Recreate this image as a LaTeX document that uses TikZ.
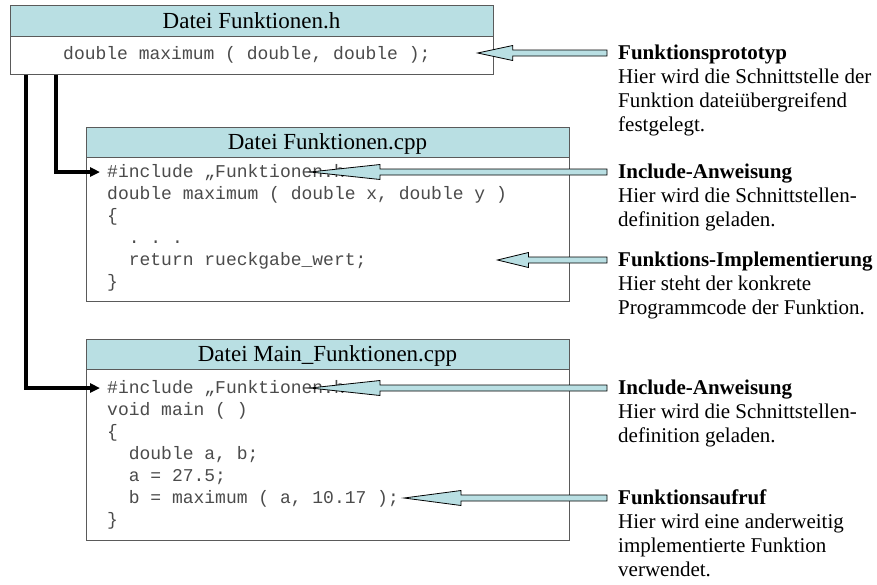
\documentclass[tikz,border=0pt]{standalone}
\usepackage{fontspec}
\setmainfont{Liberation Serif}
\setmonofont{Liberation Mono}
\usetikzlibrary{arrows.meta,calc,positioning}

\definecolor{headblue}{RGB}{185,223,227}
\definecolor{framegray}{RGB}{90,90,90}
\definecolor{codegray}{RGB}{75,75,75}

\tikzset{
  header/.style={draw=framegray, fill=headblue, line width=0.9pt, minimum width=483pt,
    inner sep=0pt, text height=17pt, text depth=2pt, font=\fontsize{23}{26}\selectfont},
  codebody/.style={draw=framegray, fill=white, line width=0.9pt, minimum width=483pt, inner sep=0pt},
  code/.style={anchor=west, inner sep=0pt, text=codegray, text height=13pt, text depth=3pt,
    font=\ttfamily\fontsize{18}{22}\selectfont},
  note/.style={anchor=north west, inner sep=0pt, align=left, font=\fontsize{21}{24}\selectfont},
  link/.style={line width=3.5pt, -{Triangle[length=10pt,width=9pt]}},
  pointerfill/.style={draw=black, line width=0.8pt, fill=headblue},
}

% flat arrow: tail, tip, head length
\newcommand{\fatpointer}[3]{%
  \filldraw[pointerfill] let \p1=(#1), \p2=(#2) in
    (\x1,{\y1+3pt}) -- ({\x2+#3pt},{\y1+3pt}) -- ({\x2+#3pt},{\y1+7.5pt})
    -- (\x2,\y1) -- ({\x2+#3pt},{\y1-7.5pt}) -- ({\x2+#3pt},{\y1-3pt})
    -- (\x1,{\y1-3pt}) -- cycle;
}
\newcommand{\ind}{\hphantom{xx}}

\begin{document}
\begin{tikzpicture}[x=1pt,y=-1pt]
  \useasboundingbox (0,0) rectangle (877,584);

  % Datei Funktionen.h
  \node[header, minimum height=31pt] (hhead) at (251.5,20.5) {Datei Funktionen.h};
  \node[codebody, minimum height=38pt, below=0pt of hhead] (hbody) {};
  \node[code] (hproto) at (63,54) {double maximum ( double, double );};

  % Datei Funktionen.cpp
  \node[header, minimum height=30pt] (fhead) at (327.5,142) {Datei Funktionen.cpp};
  \node[codebody, minimum height=144pt, below=0pt of fhead] (fbody) {};
  \foreach \line [count=\i from 0] in {{\#include „Funktionen.h},{double maximum ( double x, double y )},
      {\{},{\ind. . .},{\ind return rueckgabe\_wert;},{\}}}
    \node[code] (fcode\i) at (107,{172+22*\i}) {\line};

  % Datei Main_Funktionen.cpp
  \node[header, minimum height=30pt] (mhead) at (327.5,354) {Datei Main\_Funktionen.cpp};
  \node[codebody, minimum height=171pt, below=0pt of mhead] (mbody) {};
  \foreach \line [count=\i from 0] in {{\#include „Funktionen.h},{void main ( )},{\{},
      {\ind double a, b;},{\ind a = 27.5;},{\ind b = maximum ( a, 10.17 );},{\}}}
    \node[code] (mcode\i) at (107,{388+22*\i}) {\line};

  % Erklaerungen rechts
  \node[note] (proto) at (618,45) {\textbf{Funktionsprototyp}\\Hier wird die Schnittstelle der\\Funktion dateiübergreifend\\festgelegt.};
  \node[note] (incA) at (618,164) {\textbf{Include-Anweisung}\\Hier wird die Schnittstellen-\\definition geladen.};
  \node[note] (impl) at (618,252) {\textbf{Funktions-Implementierung}\\Hier steht der konkrete\\Programmcode der Funktion.};
  \node[note] (incB) at (618,380) {\textbf{Include-Anweisung}\\Hier wird die Schnittstellen-\\definition geladen.};
  \node[note] (call) at (618,490) {\textbf{Funktionsaufruf}\\Hier wird eine anderweitig\\implementierte Funktion\\verwendet.};

  % Verbindungen vom Header
  \coordinate (railOuter) at (26,0);
  \coordinate (railInner) at (56,0);
  \draw[link] (hbody.south -| railOuter) -- (railOuter |- mcode0.west) -- ([xshift=-7pt]mcode0.west);
  \draw[link] (hbody.south -| railInner) -- (railInner |- fcode0.west) -- ([xshift=-7pt]fcode0.west);

  % Pfeile zu den Erklaerungen
  \fatpointer{[xshift=-11pt,yshift=-8pt]proto.north west}{[xshift=47pt]hproto.east}{35}
  \fatpointer{[xshift=-11pt,yshift=-8pt]incA.north west}{[xshift=-35pt]fcode0.east}{70}
  \fatpointer{[xshift=-11pt,yshift=-8pt]impl.north west}{[xshift=-72pt]fbody.east}{31}
  \fatpointer{[xshift=-11pt,yshift=-8pt]incB.north west}{[xshift=-35pt]mcode0.east}{70}
  \fatpointer{[xshift=-11pt,yshift=-8pt]call.north west}{[xshift=5pt]mcode5.east}{57}
\end{tikzpicture}
\end{document}
